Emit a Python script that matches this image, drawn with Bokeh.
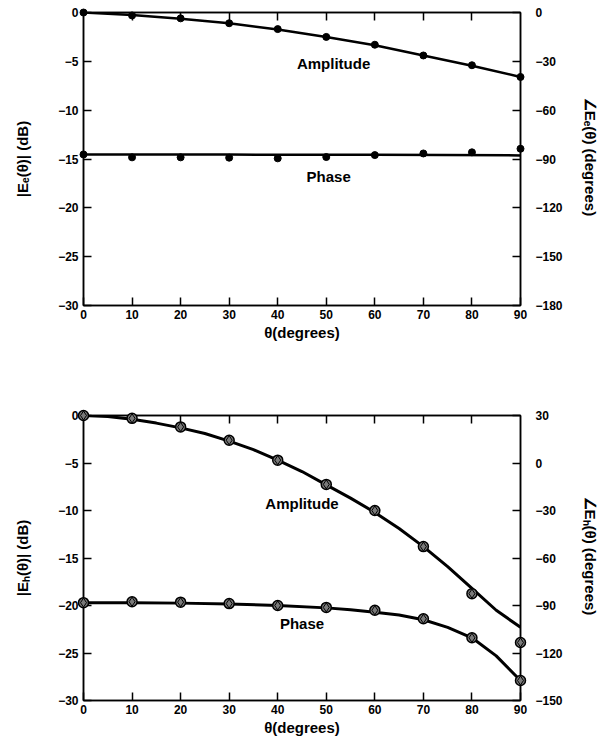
from bokeh.plotting import figure
from bokeh.models import Range1d, LinearAxis, FixedTicker, Label
from bokeh.layouts import column
from bokeh.embed import file_html
from bokeh.resources import INLINE

# ---------------- data ----------------
theta_pts = [0, 10, 20, 30, 40, 50, 60, 70, 80, 90]

# E-plane (top panel)
e_amp_curve_theta = [0, 10, 20, 30, 40, 50, 60, 70, 80, 90]
e_amp_curve = [0.0, -0.25, -0.65, -1.1, -1.75, -2.5, -3.35, -4.4, -5.45, -6.6]
e_amp_pts = [0.0, -0.3, -0.6, -1.1, -1.7, -2.5, -3.3, -4.4, -5.4, -6.6]
e_phase_curve_theta = [0, 30, 60, 90]
e_phase_curve = [-87.2, -87.3, -87.4, -87.8]          # degrees
e_phase_pts = [-87.2, -89.0, -89.0, -89.2, -89.6, -88.8, -87.6, -86.6, -85.9, -83.7]

# H-plane (bottom panel)
h_amp_curve_theta = [0, 5, 10, 15, 20, 25, 30, 35, 40, 45, 50, 55, 60, 65, 70, 75, 80, 85, 90]
h_amp_curve = [0.0, -0.1, -0.4, -0.8, -1.3, -1.9, -2.7, -3.6, -4.7, -5.9, -7.3, -8.7,
               -10.2, -11.9, -13.8, -15.9, -18.2, -20.5, -22.3]
h_amp_pts = [0.0, -0.3, -1.2, -2.6, -4.7, -7.25, -10.0, -13.8, -18.75, -23.9]
h_phase_curve_theta = [0, 10, 20, 30, 40, 50, 55, 60, 65, 70, 75, 80, 85, 90]
h_phase_curve = [-88.2, -88.2, -88.5, -89.1, -90.0, -91.5, -92.7, -94.2, -96.0,
                 -99.0, -103.8, -110.4, -121.8, -137.4]  # degrees
h_phase_pts = [-88.2, -87.6, -87.9, -88.8, -90.0, -91.2, -93.0, -98.4, -110.4, -137.4]

x_ticks = [0, 10, 20, 30, 40, 50, 60, 70, 80, 90]
db_ticks = [0, -5, -10, -15, -20, -25, -30]
e_deg_ticks = [0, -30, -60, -90, -120, -150, -180]
h_deg_ticks = [30, 0, -30, -60, -90, -120, -150]

FONT = "Liberation Sans"


def style_axis(ax, label_standoff, tick_standoff):
    ax.axis_line_color = "black"
    ax.axis_line_width = 1.5
    ax.major_tick_line_color = "black"
    ax.major_tick_line_width = 1.5
    ax.major_tick_in = 8
    ax.major_tick_out = 0
    ax.minor_tick_line_color = None
    ax.major_label_text_font = FONT
    ax.major_label_text_font_style = "bold"
    ax.major_label_text_font_size = "12px"
    ax.major_label_text_color = "black"
    ax.axis_label_text_font = FONT
    ax.axis_label_text_font_style = "bold"
    ax.axis_label_text_font_size = "15px"
    ax.axis_label_text_color = "black"
    ax.axis_label_standoff = label_standoff
    ax.major_label_standoff = tick_standoff


def make_panel(width, height, borders, deg_range, deg_ticks, left_label, right_label):
    p = figure(width=width, height=height, output_backend="svg", toolbar_location=None,
               x_range=Range1d(0, 90), y_range=Range1d(-30, 0),
               min_border_left=borders[0], min_border_right=borders[1],
               min_border_top=borders[2], min_border_bottom=borders[3])
    p.extra_y_ranges = {"phase": Range1d(*deg_range)}
    p.grid.visible = False
    p.outline_line_color = "black"
    p.outline_line_width = 1.5
    p.background_fill_color = "white"
    p.border_fill_color = "white"

    p.xaxis.ticker = FixedTicker(ticks=x_ticks)
    p.yaxis.ticker = FixedTicker(ticks=db_ticks)
    p.xaxis.axis_label = "θ(degrees)"
    p.yaxis.axis_label = left_label
    style_axis(p.xaxis[0], 2, 4)
    style_axis(p.yaxis[0], 24, 5)

    # top axis: inward ticks only, no labels drawn
    top = LinearAxis(ticker=FixedTicker(ticks=x_ticks[1:-1]))
    style_axis(top, 0, 0)
    top.major_label_text_font_size = "1px"
    top.major_label_text_color = None
    p.add_layout(top, "above")

    right = LinearAxis(y_range_name="phase", ticker=FixedTicker(ticks=deg_ticks),
                       axis_label=right_label)
    style_axis(right, 16, 15)
    p.add_layout(right, "right")
    return p


def add_text(p, x, y, text):
    p.add_layout(Label(x=x, y=y, text=text, text_align="center", text_baseline="middle",
                       text_font=FONT, text_font_style="bold", text_font_size="15px",
                       text_color="black"))


# ---------------- top panel ----------------
p1 = make_panel(602, 370, (83, 78, 12, 65), (-180, 0), e_deg_ticks,
                "|Eₑ(θ)| (dB)", "∠Eₑ(θ)  (degrees)")
p1.line(e_amp_curve_theta, e_amp_curve, line_color="black", line_width=2.5)
p1.line(e_phase_curve_theta, e_phase_curve, line_color="black", line_width=2.5,
        y_range_name="phase")
p1.scatter(theta_pts, e_amp_pts, marker="circle", size=7, fill_color="black",
           line_color="black", level="overlay")
p1.scatter(theta_pts, e_phase_pts, marker="circle", size=7, fill_color="black",
           line_color="black", y_range_name="phase", level="overlay")
add_text(p1, 51.5, -5.2, "Amplitude")
add_text(p1, 50.5, -16.8, "Phase")

# ---------------- bottom panel ----------------
p2 = make_panel(602, 368, (82, 82, 45, 36), (-150, 30), h_deg_ticks,
                "|Eₕ(θ)| (dB)", "∠Eₕ(θ)  (degrees)")
p2.line(h_amp_curve_theta, h_amp_curve, line_color="black", line_width=3)
p2.line(h_phase_curve_theta, h_phase_curve, line_color="black", line_width=3,
        y_range_name="phase")
p2.scatter(theta_pts, h_amp_pts, marker="circle", size=10, fill_color="#7a7a7a",
           line_color="black", line_width=1.5, level="overlay")
p2.scatter(theta_pts, h_amp_pts, marker="diamond", size=9, fill_color=None,
           line_color="black", line_width=1, level="overlay")
p2.scatter(theta_pts, h_phase_pts, marker="circle", size=10, fill_color="#7a7a7a",
           line_color="black", line_width=1.5, y_range_name="phase", level="overlay")
p2.scatter(theta_pts, h_phase_pts, marker="diamond", size=9, fill_color=None,
           line_color="black", line_width=1, y_range_name="phase", level="overlay")
add_text(p2, 45, -9.3, "Amplitude")
add_text(p2, 45, -21.9, "Phase")

layout = column(p1, p2, spacing=0)
open("out.html", "w").write(file_html(layout, INLINE))
